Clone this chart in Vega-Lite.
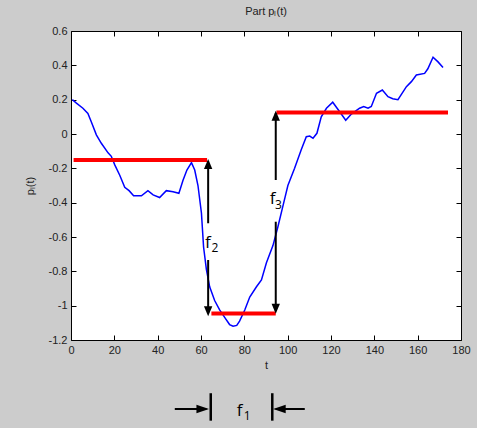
{
  "$schema": "https://vega.github.io/schema/vega-lite/v6.json",
  "width": 390,
  "height": 309,
  "autosize": {"type": "none"},
  "padding": {"left": 71, "top": 31, "right": 16, "bottom": 88},
  "background": "#cccccc",
  "config": {
    "view": {"fill": "white", "stroke": "black", "strokeWidth": 1},
    "font": "Liberation Sans",
    "axis": {
      "labelFont": "Liberation Sans", "labelFontSize": 11, "labelColor": "#222222", "labelFlush": false,
      "tickColor": "black", "tickSize": -5, "domain": false, "grid": false,
      "titleFont": "Liberation Sans", "titleFontWeight": "normal", "titleFontSize": 11, "titleColor": "#222222"
    }
  },
  "title": {"text": "Part pₗ(t)", "fontSize": 11, "fontWeight": "normal", "color": "#222222", "offset": 8, "font": "Liberation Sans"},
  "datasets": {
    "curve": [
      {"t": 0.6, "v": 0.2}, {"t": 2.5, "v": 0.18}, {"t": 5.5, "v": 0.15}, {"t": 7.8, "v": 0.12},
      {"t": 9.4, "v": 0.07}, {"t": 11.7, "v": -0.005}, {"t": 14, "v": -0.054}, {"t": 17.1, "v": -0.11},
      {"t": 18.6, "v": -0.13}, {"t": 20.2, "v": -0.18}, {"t": 22.5, "v": -0.24}, {"t": 24.8, "v": -0.31},
      {"t": 26.8, "v": -0.33}, {"t": 28.9, "v": -0.36}, {"t": 32.5, "v": -0.36}, {"t": 35.5, "v": -0.33},
      {"t": 37.9, "v": -0.355}, {"t": 40.9, "v": -0.37}, {"t": 44, "v": -0.33}, {"t": 47.1, "v": -0.336},
      {"t": 49.8, "v": -0.345}, {"t": 51.7, "v": -0.27}, {"t": 53.5, "v": -0.21}, {"t": 55.6, "v": -0.167},
      {"t": 57.1, "v": -0.21}, {"t": 58.6, "v": -0.3}, {"t": 60.2, "v": -0.46}, {"t": 61.2, "v": -0.66},
      {"t": 62.5, "v": -0.79}, {"t": 64, "v": -0.89}, {"t": 66.3, "v": -0.97}, {"t": 68.6, "v": -1.025},
      {"t": 71, "v": -1.07}, {"t": 73.2, "v": -1.11}, {"t": 74.8, "v": -1.12}, {"t": 76.5, "v": -1.115},
      {"t": 77.8, "v": -1.09}, {"t": 80.2, "v": -1.025}, {"t": 82.5, "v": -0.95}, {"t": 85.6, "v": -0.89},
      {"t": 87.9, "v": -0.85}, {"t": 90.2, "v": -0.75}, {"t": 93.2, "v": -0.65}, {"t": 95.5, "v": -0.54},
      {"t": 97.8, "v": -0.42}, {"t": 100.1, "v": -0.3}, {"t": 103.2, "v": -0.2}, {"t": 106.3, "v": -0.09},
      {"t": 108.6, "v": -0.016}, {"t": 110.2, "v": -0.012}, {"t": 111.7, "v": -0.025}, {"t": 113.5, "v": 0.004},
      {"t": 115.5, "v": 0.1}, {"t": 117.9, "v": 0.15}, {"t": 120.8, "v": 0.185}, {"t": 124, "v": 0.13},
      {"t": 126.8, "v": 0.08}, {"t": 129.4, "v": 0.116}, {"t": 133.2, "v": 0.15}, {"t": 135.1, "v": 0.16},
      {"t": 137.1, "v": 0.15}, {"t": 138.6, "v": 0.16}, {"t": 141, "v": 0.237}, {"t": 143.7, "v": 0.256},
      {"t": 146.3, "v": 0.217}, {"t": 148.5, "v": 0.205}, {"t": 150.9, "v": 0.2}, {"t": 154.8, "v": 0.276},
      {"t": 157.1, "v": 0.305}, {"t": 159.4, "v": 0.344}, {"t": 163.2, "v": 0.353}, {"t": 164.7, "v": 0.38},
      {"t": 167.1, "v": 0.447}, {"t": 169.4, "v": 0.42}, {"t": 171.7, "v": 0.388}
    ],
    "levels": [
      {"t1": 1.2, "t2": 62.8, "v": -0.152},
      {"t1": 64.8, "t2": 94.5, "v": -1.045},
      {"t1": 94.8, "t2": 174, "v": 0.125}
    ],
    "shafts": [
      {"t": 63.3, "v1": -0.16, "v2": -0.52},
      {"t": 63.3, "v1": -0.734, "v2": -1.04},
      {"t": 94.5, "v1": 0.12, "v2": -0.268},
      {"t": 94.5, "v1": -0.511, "v2": -1.03}
    ],
    "heads": [
      {"t": 63.3, "v": -0.145, "dir": "up"},
      {"t": 63.3, "v": -1.062, "dir": "down"},
      {"t": 94.5, "v": 0.136, "dir": "up"},
      {"t": 94.5, "v": -1.047, "dir": "down"},
      {"t": 63.7, "v": -1.602, "dir": "right"},
      {"t": 93.3, "v": -1.602, "dir": "left"}
    ],
    "bars": [
      {"t": 64.5, "v1": -1.51, "v2": -1.67},
      {"t": 92.9, "v1": -1.51, "v2": -1.67}
    ],
    "hshafts": [
      {"t1": 47.9, "t2": 62.5, "v": -1.602},
      {"t1": 94.5, "t2": 107.9, "v": -1.602}
    ],
    "labels": [
      {"txt": "f", "kind": "main", "t": 61.8, "v": -0.664},
      {"txt": "2", "kind": "sub", "t": 64.9, "v": -0.687},
      {"txt": "f", "kind": "main", "t": 91.7, "v": -0.408},
      {"txt": "3", "kind": "sub", "t": 94.2, "v": -0.437},
      {"txt": "f", "kind": "main", "t": 76.5, "v": -1.643},
      {"txt": "1", "kind": "sub", "t": 79.7, "v": -1.666}
    ]
  },
  "resolve": {"axis": {"x": "independent", "y": "independent"}},
  "layer": [
    {
      "data": {"name": "curve"},
      "mark": {"type": "line", "color": "#0000ff", "strokeWidth": 1.5},
      "encoding": {
        "x": {"field": "t", "type": "quantitative", "scale": {"domain": [0, 180], "nice": false, "zero": false},
          "axis": {"orient": "bottom", "values": [0, 20, 40, 60, 80, 100, 120, 140, 160, 180], "title": "t", "labelPadding": 9, "titlePadding": 4}},
        "y": {"field": "v", "type": "quantitative", "scale": {"domain": [-1.2, 0.6], "nice": false, "zero": false},
          "axis": {"orient": "left", "values": [-1.2, -1, -0.8, -0.6, -0.4, -0.2, 0, 0.2, 0.4, 0.6], "labelExpr": "'' + datum.value", "title": "pₗ(t)", "labelPadding": 9, "titlePadding": 13}}
      }
    },
    {
      "data": {"name": "levels"},
      "mark": {"type": "rule", "color": "#ff0000", "strokeWidth": 4},
      "encoding": {
        "x": {"field": "t1", "type": "quantitative", "axis": {"orient": "top", "values": [0, 20, 40, 60, 80, 100, 120, 140, 160, 180], "labels": false, "title": null}},
        "x2": {"field": "t2"},
        "y": {"field": "v", "type": "quantitative", "axis": {"orient": "right", "values": [-1.2, -1, -0.8, -0.6, -0.4, -0.2, 0, 0.2, 0.4, 0.6], "labels": false, "title": null}}
      }
    },
    {
      "data": {"name": "shafts"},
      "mark": {"type": "rule", "color": "black", "strokeWidth": 2},
      "encoding": {
        "x": {"field": "t", "type": "quantitative", "axis": null},
        "y": {"field": "v1", "type": "quantitative", "axis": null},
        "y2": {"field": "v2"}
      }
    },
    {
      "data": {"name": "bars"},
      "mark": {"type": "rule", "color": "black", "strokeWidth": 2.5, "clip": false},
      "encoding": {
        "x": {"field": "t", "type": "quantitative", "axis": null},
        "y": {"field": "v1", "type": "quantitative", "axis": null},
        "y2": {"field": "v2"}
      }
    },
    {
      "data": {"name": "hshafts"},
      "mark": {"type": "rule", "color": "black", "strokeWidth": 2, "clip": false},
      "encoding": {
        "x": {"field": "t1", "type": "quantitative", "axis": null},
        "x2": {"field": "t2"},
        "y": {"field": "v", "type": "quantitative", "axis": null}
      }
    },
    {
      "data": {"name": "heads"},
      "mark": {"type": "point", "filled": true, "color": "black", "opacity": 1, "size": 70, "clip": false},
      "encoding": {
        "x": {"field": "t", "type": "quantitative", "axis": null},
        "y": {"field": "v", "type": "quantitative", "axis": null},
        "shape": {"field": "dir", "type": "nominal", "legend": null,
          "scale": {"domain": ["up", "down", "right", "left"],
            "range": ["M0,0L-1,2.4L1,2.4Z", "M0,0L-1,-2.4L1,-2.4Z", "M0,0L-3,-1L-3,1Z", "M0,0L3,-1L3,1Z"]}}
      }
    },
    {
      "data": {"name": "labels"},
      "transform": [{"filter": "datum.kind == 'main'"}],
      "mark": {"type": "text", "align": "left", "baseline": "alphabetic", "font": "Open Sans", "fontSize": 17, "color": "black", "clip": false},
      "encoding": {
        "x": {"field": "t", "type": "quantitative", "axis": null},
        "y": {"field": "v", "type": "quantitative", "axis": null},
        "text": {"field": "txt"}
      }
    },
    {
      "data": {"name": "labels"},
      "transform": [{"filter": "datum.kind == 'sub'"}],
      "mark": {"type": "text", "align": "left", "baseline": "alphabetic", "font": "Open Sans", "fontSize": 12, "color": "black", "clip": false},
      "encoding": {
        "x": {"field": "t", "type": "quantitative", "axis": null},
        "y": {"field": "v", "type": "quantitative", "axis": null},
        "text": {"field": "txt"}
      }
    }
  ]
}
